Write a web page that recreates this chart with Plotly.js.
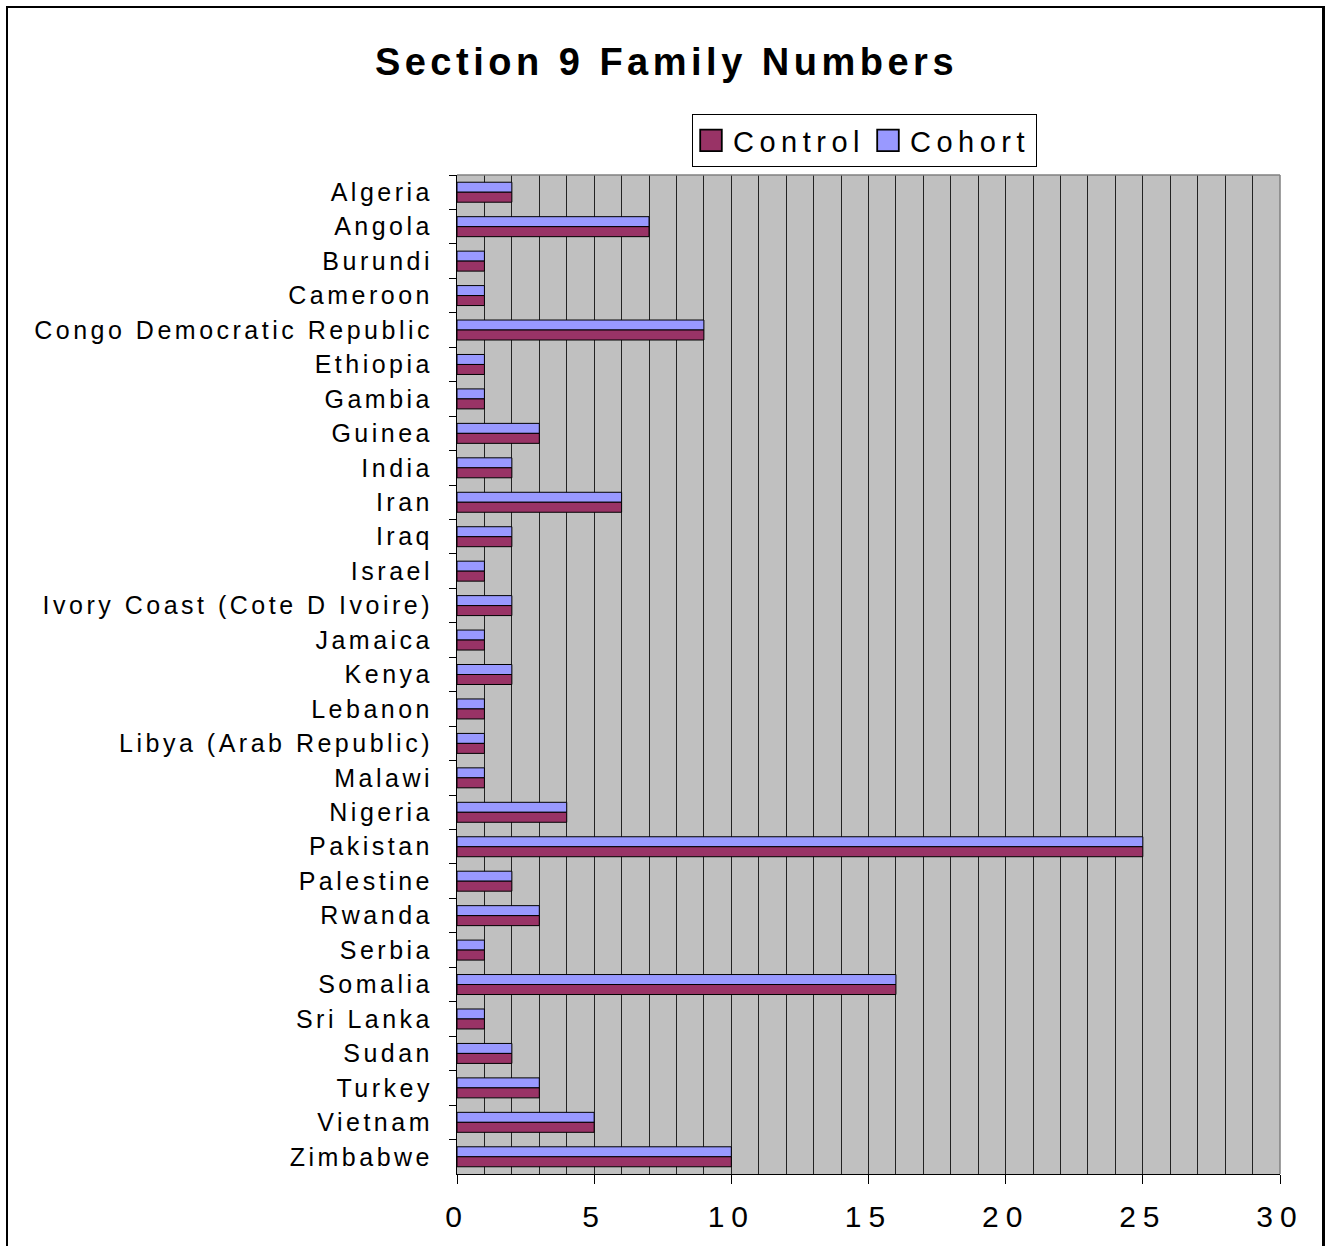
<!DOCTYPE html>
<html>
<head>
<meta charset="utf-8">
<script src="https://cdn.plot.ly/plotly-3.0.1.min.js"></script>
<style>
  html, body { margin: 0; padding: 0; background: #fff; }
  #wrap { position: relative; width: 1325px; height: 1246px; overflow: hidden; }
  #chart { width: 1325px; height: 1246px; }
  #frame { position: absolute; left: 6px; top: 6px; width: 1314px; height: 1260px;
           border-left: 2px solid #000; border-top: 2px solid #000; border-right: 3px solid #000;
           pointer-events: none; }
  .ytick text { letter-spacing: 3.5px; }
  .xtick text { letter-spacing: 7px; }
  .gtitle { letter-spacing: 4.5px; }
  .legendtext { letter-spacing: 5.5px; }
  .legend .legendpoints path { transform: translate(18px, 0px) scale(1.8); }
</style>
</head>
<body>
<div id="wrap">
  <div id="chart"></div>
  <div id="frame"></div>
</div>
<script>
const countries = [
  "Algeria", "Angola", "Burundi", "Cameroon", "Congo Democratic Republic",
  "Ethiopia", "Gambia", "Guinea", "India", "Iran", "Iraq", "Israel",
  "Ivory Coast (Cote D Ivoire)", "Jamaica", "Kenya", "Lebanon",
  "Libya (Arab Republic)", "Malawi", "Nigeria", "Pakistan", "Palestine",
  "Rwanda", "Serbia", "Somalia", "Sri Lanka", "Sudan", "Turkey",
  "Vietnam", "Zimbabwe"
];
const controlValues = [2, 7, 1, 1, 9, 1, 1, 3, 2, 6, 2, 1, 2, 1, 2, 1, 1, 1, 4, 25, 2, 3, 1, 16, 1, 2, 3, 5, 10];
const cohortValues  = [2, 7, 1, 1, 9, 1, 1, 3, 2, 6, 2, 1, 2, 1, 2, 1, 1, 1, 4, 25, 2, 3, 1, 16, 1, 2, 3, 5, 10];
const xTickValues = [0, 5, 10, 15, 20, 25, 30];

const W = 1325, H = 1246;
const L = 457, R = 1280, T = 175, B = 1174;

const traces = [
  {
    type: "bar", orientation: "h", name: "Cohort",
    y: countries, x: cohortValues,
    marker: { color: "#9999FF", line: { color: "#000", width: 1 } },
    hoverinfo: "x+y"
  },
  {
    type: "bar", orientation: "h", name: "Control",
    y: countries, x: controlValues,
    marker: { color: "#993366", line: { color: "#000", width: 1 } },
    hoverinfo: "x+y"
  }
];

const font = "Liberation Sans, Arial, Helvetica, sans-serif";

const layout = {
  width: W, height: H,
  margin: { l: L, r: W - R, t: T, b: H - B, pad: 0 },
  paper_bgcolor: "#fff",
  plot_bgcolor: "#C0C0C0",
  font: { family: font, color: "#000" },
  title: {
    text: "<b>Section 9 Family Numbers</b>",
    font: { family: font, size: 38, color: "#000" },
    x: 0.503, xref: "container", xanchor: "center",
    y: 1 - 62 / H, yref: "container", yanchor: "middle"
  },
  barmode: "group",
  bargap: 0.42,
  bargroupgap: 0,
  showlegend: true,
  legend: {
    orientation: "h",
    traceorder: "reversed",
    x: (692 - L) / (R - L), xanchor: "left",
    y: (B - 114) / (B - T), yanchor: "top",
    bgcolor: "#fff",
    bordercolor: "#000", borderwidth: 1,
    font: { family: font, size: 29, color: "#000" },
    itemwidth: 30
  },
  xaxis: {
    range: [0, 30],
    tickvals: xTickValues,
    ticktext: xTickValues.map(String),
    ticks: "outside", ticklen: 9, tickcolor: "#000", tickwidth: 1,
    tickfont: { family: font, size: 30, color: "#000" },
    ticklabelstandoff: 7,
    showgrid: true, gridcolor: "#222", gridwidth: 1,
    minor: { dtick: 1, tick0: 0, showgrid: true, gridcolor: "#222", gridwidth: 1, ticks: "" },
    showline: true, linecolor: "#000", linewidth: 1,
    zeroline: false,
    fixedrange: true
  },
  yaxis: {
    type: "category",
    categoryorder: "array",
    categoryarray: countries,
    autorange: "reversed",
    tickson: "boundaries",
    ticks: "outside", ticklen: 7, tickcolor: "#000", tickwidth: 1,
    tickfont: { family: font, size: 25, color: "#000" },
    ticklabelstandoff: 18,
    showgrid: false,
    showline: true, linecolor: "#000", linewidth: 1,
    zeroline: false,
    fixedrange: true
  },
  shapes: [
    { type: "line", xref: "paper", yref: "paper", x0: 0, x1: 1, y0: 1, y1: 1,
      line: { color: "#808080", width: 1.5 } },
    { type: "line", xref: "paper", yref: "paper", x0: 1, x1: 1, y0: 0, y1: 1,
      line: { color: "#808080", width: 1.5 } }
  ]
};

Plotly.newPlot("chart", traces, layout, { displayModeBar: false, staticPlot: true });
</script>
</body>
</html>
